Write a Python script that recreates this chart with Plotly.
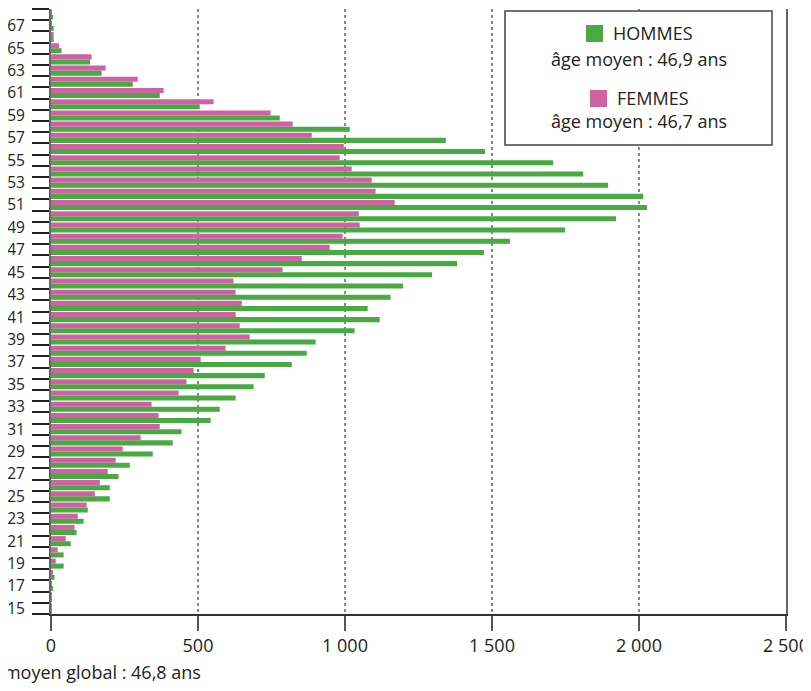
import plotly.graph_objects as go

ages = list(range(15, 69))
hommes = [2, 2, 6, 12, 43, 43, 67, 87, 111, 125,
          200, 200, 230, 268, 346, 414, 444, 543, 574, 628,
          689, 727, 819, 870, 900, 1033, 1118, 1077, 1155, 1197,
          1296, 1381, 1473, 1561, 1748, 1922, 2027, 2014, 1895, 1810,
          1708, 1476, 1343, 1016, 778, 506, 370, 278, 172, 133,
          36, 9, 9, 7]
femmes = [1, 1, 1, 6, 16, 23, 50, 80, 91, 121,
          149, 166, 193, 220, 244, 305, 370, 366, 342, 434,
          461, 485, 509, 594, 676, 642, 628, 649, 628, 621,
          788, 853, 948, 992, 1050, 1047, 1169, 1104, 1091, 1023,
          982, 996, 887, 822, 747, 553, 383, 295, 186, 138,
          27, 9, 2, 3]
x_ticks = [0, 500, 1000, 1500, 2000, 2500]
x_ticktext = ["0", "500", "1 000", "1 500", "2 000", "2 500"]
y_ticks = list(range(15, 68, 2))

GREEN = "#49a943"
PINK = "#d062a4"
FONT = "Open Sans, Noto Sans, sans-serif"
FS = 18

fig = go.Figure()
fig.add_trace(go.Bar(y=ages, x=hommes, orientation="h", marker_color=GREEN,
                     marker_line_width=0, name="HOMMES"))
fig.add_trace(go.Bar(y=ages, x=femmes, orientation="h", marker_color=PINK,
                     marker_line_width=0, name="FEMMES"))

# page has an 8px body margin: the figure starts at page (8, 8)
OFF = 8
W, H = 811 - OFF, 691 - OFF
L, T = 51 - OFF, 9 - OFF
R = W - (786 - OFF)
B = H - (614 - OFF)

fig.update_layout(
    width=W, height=H,
    margin=dict(l=L, r=R, t=T, b=B, autoexpand=False),
    barmode="group", bargap=0.1, bargroupgap=0,
    showlegend=False,
    plot_bgcolor="white", paper_bgcolor="white",
    font=dict(family=FONT, size=FS, color="#222"),
    xaxis=dict(
        range=[0, 2500], tickmode="array", tickvals=x_ticks, ticktext=x_ticktext,
        ticks="outside", ticklen=15, tickwidth=2, tickcolor="#555",
        showline=True, linecolor="#333", linewidth=1.5,
        showgrid=True, gridcolor="#888", griddash="dot", gridwidth=1.5,
        zeroline=False, tickfont=dict(size=FS, color="#222"), automargin=False,
    ),
    yaxis=dict(
        range=[14.5, 68.5], tickmode="array", tickvals=y_ticks,
        ticks="outside", ticklen=21, tickcolor="rgba(0,0,0,0)",
        showline=True, linecolor="#666", linewidth=2, mirror=True,
        showgrid=False, zeroline=False, automargin=False,
        tickfont=dict(size=15.5, color="#222"),
        minor=dict(tickmode="linear", tick0=14.5, dtick=1, ticks="outside",
                   ticklen=17, tickwidth=1.5, tickcolor="#222", showgrid=False),
    ),
)

pw = W - L - R
ph = H - T - B


def px(x):
    return (x - OFF - L) / pw


def py(y):
    return 1 - (y - OFF - T) / ph


# legend box (page pixel coordinates)
fig.add_shape(type="rect", xref="paper", yref="paper",
              x0=px(505), x1=px(772), y0=py(145), y1=py(11),
              line=dict(color="#444", width=1.5), fillcolor="white", layer="above")
fig.add_shape(type="rect", xref="paper", yref="paper",
              x0=px(586), x1=px(603), y0=py(42), y1=py(25),
              line=dict(width=0), fillcolor=GREEN, layer="above")
fig.add_shape(type="rect", xref="paper", yref="paper",
              x0=px(590), x1=px(607), y0=py(107), y1=py(90),
              line=dict(width=0), fillcolor=PINK, layer="above")

ann = [
    (611, 33, "HOMMES", "left"),
    (639, 59, "âge moyen : 46,9 ans", "center"),
    (615, 98, "FEMMES", "left"),
    (639, 121, "âge moyen : 46,7 ans", "center"),
]
for x, y, t, a in ann:
    fig.add_annotation(xref="paper", yref="paper", x=px(x), y=py(y), text=t,
                       showarrow=False, xanchor=a, yanchor="middle",
                       font=dict(family=FONT, size=FS, color="#222"))

fig.add_annotation(xref="paper", yref="paper", x=px(203), y=py(672),
                   text="Âge moyen global : 46,8 ans", showarrow=False,
                   xanchor="right", yanchor="middle",
                   font=dict(family=FONT, size=FS, color="#222"))

fig.write_html("out.html")
